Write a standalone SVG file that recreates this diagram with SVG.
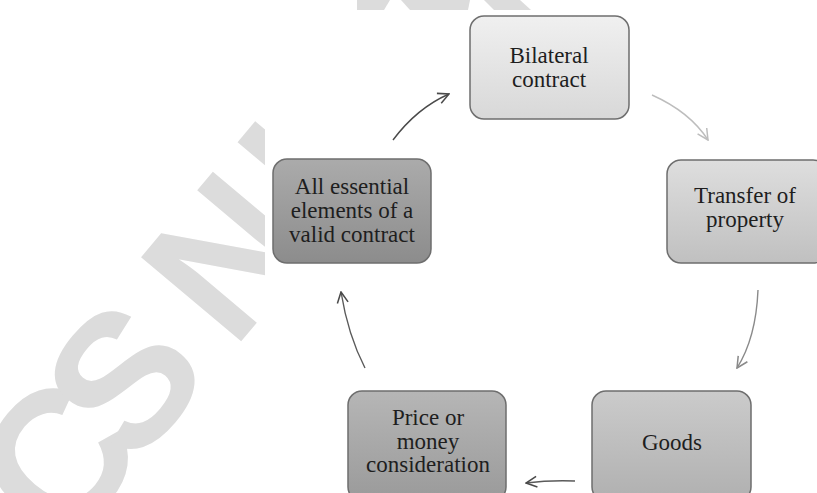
<svg xmlns="http://www.w3.org/2000/svg" width="817" height="493" viewBox="0 0 817 493">
<defs>
<linearGradient id="g1" x1="0" y1="0" x2="0" y2="1"><stop offset="0" stop-color="#f0f0f0"/><stop offset="1" stop-color="#d8d8d8"/></linearGradient>
<linearGradient id="g2" x1="0" y1="0" x2="0" y2="1"><stop offset="0" stop-color="#dedede"/><stop offset="1" stop-color="#c0c0c0"/></linearGradient>
<linearGradient id="g3" x1="0" y1="0" x2="0" y2="1"><stop offset="0" stop-color="#cbcbcb"/><stop offset="1" stop-color="#b0b0b0"/></linearGradient>
<linearGradient id="g4" x1="0" y1="0" x2="0" y2="1"><stop offset="0" stop-color="#b6b6b6"/><stop offset="1" stop-color="#9a9a9a"/></linearGradient>
<linearGradient id="g5" x1="0" y1="0" x2="0" y2="1"><stop offset="0" stop-color="#ababab"/><stop offset="1" stop-color="#8c8c8c"/></linearGradient>
<marker id="mDark" viewBox="0 0 12 12" refX="11" refY="6" markerWidth="13" markerHeight="13" markerUnits="userSpaceOnUse" orient="auto"><path d="M1,1 L11,6 L1,11" fill="none" stroke="#4a4a4a" stroke-width="1.4"/></marker>
<marker id="mLight" viewBox="0 0 12 12" refX="11" refY="6" markerWidth="13" markerHeight="13" markerUnits="userSpaceOnUse" orient="auto"><path d="M1,1 L11,6 L1,11" fill="none" stroke="#bdbdbd" stroke-width="1.4"/></marker>
<marker id="mMid" viewBox="0 0 12 12" refX="11" refY="6" markerWidth="13" markerHeight="13" markerUnits="userSpaceOnUse" orient="auto"><path d="M1,1 L11,6 L1,11" fill="none" stroke="#8a8a8a" stroke-width="1.4"/></marker>
<style>
.box{stroke:#6e6e6e;stroke-width:1.5}
.lbl{font-family:"Liberation Serif","DejaVu Serif",serif;font-size:23px;fill:#1e1e1e;text-anchor:middle}
.wm{font-family:"Liberation Sans",Arial,sans-serif;font-weight:bold;font-size:190px;fill:#dcdcdc}
.c{fill:none;stroke-width:1.4}
</style>
</defs>
<rect width="817" height="493" fill="#ffffff"/>
<g id="watermark">
<g transform="translate(233,351) rotate(-50)">
<text class="wm" x="-265 -155 -20 0 150">CS NI</text>
</g>
<rect x="265" y="10" width="552" height="483" fill="#ffffff"/>
<polygon points="357,0 390,0 384,10 357,10" fill="#dcdcdc"/>
<polygon points="401,0 470,0 468,10 410,10" fill="#dcdcdc"/>
<polygon points="484,0 520,0 531,10 494,10" fill="#dcdcdc"/>
</g>
<g id="connectors">
<path class="c" d="M393,140 Q417,108 449,94" stroke="#4a4a4a" marker-end="url(#mDark)"/>
<path class="c" d="M652,95 Q690,112 708,140" stroke="#bdbdbd" marker-end="url(#mLight)"/>
<path class="c" d="M758,290 Q756,338 737,368" stroke="#8a8a8a" marker-end="url(#mMid)"/>
<path class="c" d="M575,481 Q550,480 526,483" stroke="#5a5a5a" marker-end="url(#mDark)"/>
<path class="c" d="M365,368 Q348,335 341,292" stroke="#5a5a5a" marker-end="url(#mDark)"/>
</g>
<g id="node-bilateral">
<rect class="box" x="470" y="16" width="159" height="103" rx="14" fill="url(#g1)"/>
<text class="lbl" x="549" y="63">Bilateral</text>
<text class="lbl" x="549" y="87">contract</text>
</g>
<g id="node-transfer">
<rect class="box" x="667" y="160" width="160" height="103" rx="14" fill="url(#g2)"/>
<text class="lbl" x="745" y="203">Transfer of</text>
<text class="lbl" x="745" y="227">property</text>
</g>
<g id="node-goods">
<rect class="box" x="592" y="391" width="159" height="110" rx="14" fill="url(#g3)"/>
<text class="lbl" x="672" y="450">Goods</text>
</g>
<g id="node-price">
<rect class="box" x="348" y="391" width="158" height="110" rx="14" fill="url(#g4)"/>
<text class="lbl" x="428" y="425">Price or</text>
<text class="lbl" x="428" y="448.5">money</text>
<text class="lbl" x="428" y="472">consideration</text>
</g>
<g id="node-essential">
<rect class="box" x="273" y="159" width="158" height="104" rx="14" fill="url(#g5)"/>
<text class="lbl" x="352" y="194">All essential</text>
<text class="lbl" x="352" y="218">elements of a</text>
<text class="lbl" x="352" y="242">valid contract</text>
</g>
</svg>
